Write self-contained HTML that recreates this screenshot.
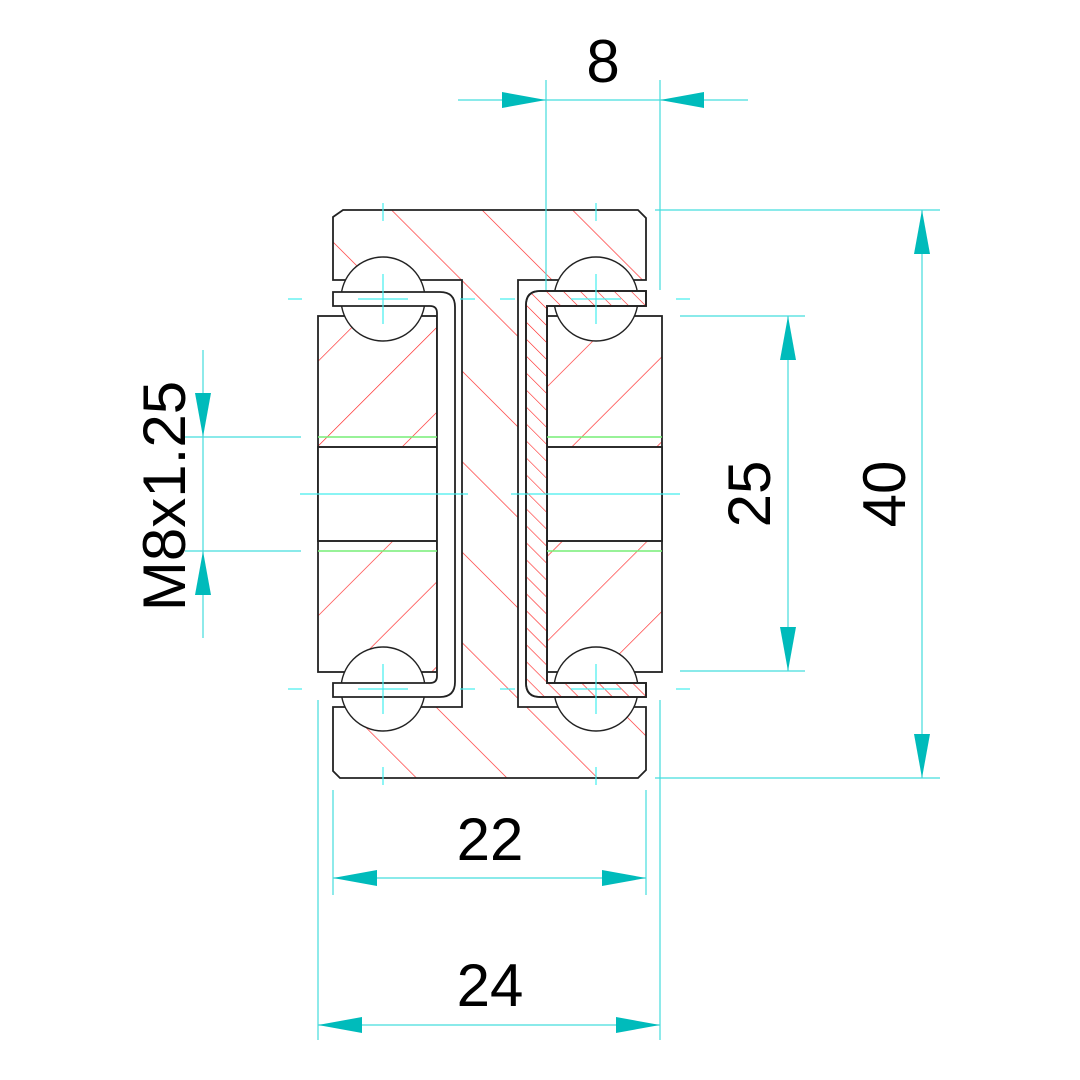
<!DOCTYPE html>
<html><head><meta charset="utf-8"><style>html,body{margin:0;padding:0;background:#fff}svg{display:block}</style></head>
<body>
<svg width="1080" height="1080" viewBox="0 0 1080 1080" xmlns="http://www.w3.org/2000/svg" font-family="Liberation Sans, sans-serif">
<defs>
<pattern id="hb" patternUnits="userSpaceOnUse" width="64" height="64" patternTransform="rotate(-45)"><line x1="0" y1="0" x2="0" y2="64" stroke="#f22" stroke-width="1.3"/></pattern>
<pattern id="hk" patternUnits="userSpaceOnUse" width="60" height="60" patternTransform="rotate(45)"><line x1="0" y1="0" x2="0" y2="60" stroke="#f22" stroke-width="1.3"/></pattern>
<pattern id="hs" patternUnits="userSpaceOnUse" width="12" height="12" patternTransform="rotate(-45)"><line x1="0" y1="0" x2="0" y2="12" stroke="#f22" stroke-width="1.2"/></pattern>
</defs>
<g stroke="#222" stroke-width="1.8">
<path d="M343 210 L638 210 L646 218 L646 280 L518 280 L518 707 L646 707 L646 770 L638 778 L340 778 L333 771 L333 707 L462 707 L462 280 L333 280 L333 217 Z" fill="url(#hb)"/>
<rect x="318" y="316" width="119" height="356" fill="url(#hk)"/>
<rect x="547" y="316" width="115" height="356" fill="url(#hk)"/>
<rect x="318" y="447" width="119" height="94" fill="#fff"/>
<rect x="547" y="447" width="115" height="94" fill="#fff"/>
<circle cx="383" cy="299" r="42" fill="#fff" stroke-width="1.4"/>
<circle cx="596" cy="299" r="42" fill="#fff" stroke-width="1.4"/>
<circle cx="383" cy="689" r="42" fill="#fff" stroke-width="1.4"/>
<circle cx="596" cy="689" r="42" fill="#fff" stroke-width="1.4"/>
<path d="M333 292 H440 Q455 292 455 307 V682 Q455 697 440 697 H333 V683 H430 Q437 683 437 676 V313 Q437 306 430 306 H333 Z" fill="#fff"/>
<path d="M646 291 H540 Q526 291 526 305 V683 Q526 697 540 697 H646 V683 H547 V306 H646 Z" fill="#fff"/>
<path d="M646 291 H540 Q526 291 526 305 V683 Q526 697 540 697 H646 V683 H547 V306 H646 Z" fill="url(#hs)"/>
</g>
<g stroke="#7e7" stroke-width="1.5"><line x1="318" y1="437" x2="437" y2="437"/><line x1="318" y1="551" x2="437" y2="551"/><line x1="547" y1="437" x2="662" y2="437"/><line x1="547" y1="551" x2="662" y2="551"/></g>
<g stroke="#222" stroke-width="1.4"><line x1="318" y1="447" x2="437" y2="447"/><line x1="318" y1="541" x2="437" y2="541"/><line x1="547" y1="447" x2="662" y2="447"/><line x1="547" y1="541" x2="662" y2="541"/></g>
<g stroke="#4ee" stroke-width="1.2">
<line x1="300" y1="494" x2="468" y2="494"/><line x1="511" y1="494" x2="680" y2="494"/>
<line x1="288" y1="299" x2="302" y2="299"/><line x1="358" y1="299" x2="408" y2="299"/><line x1="460" y1="299" x2="475" y2="299"/><line x1="500" y1="299" x2="515" y2="299"/><line x1="571" y1="299" x2="621" y2="299"/><line x1="676" y1="299" x2="690" y2="299"/>
<line x1="288" y1="689" x2="302" y2="689"/><line x1="358" y1="689" x2="408" y2="689"/><line x1="460" y1="689" x2="475" y2="689"/><line x1="500" y1="689" x2="515" y2="689"/><line x1="571" y1="689" x2="621" y2="689"/><line x1="676" y1="689" x2="690" y2="689"/>
<line x1="383" y1="274" x2="383" y2="324"/><line x1="596" y1="274" x2="596" y2="324"/><line x1="383" y1="664" x2="383" y2="714"/><line x1="596" y1="664" x2="596" y2="714"/>
<line x1="383" y1="203" x2="383" y2="221"/><line x1="596" y1="203" x2="596" y2="221"/><line x1="383" y1="767" x2="383" y2="785"/><line x1="596" y1="767" x2="596" y2="785"/>
</g>
<g stroke="#4dd" stroke-width="1.2" fill="none">
<line x1="546" y1="80" x2="546" y2="290"/><line x1="660" y1="80" x2="660" y2="290"/><line x1="458" y1="100" x2="748" y2="100"/>
<line x1="655" y1="210" x2="940" y2="210"/><line x1="655" y1="778" x2="940" y2="778"/><line x1="922" y1="210" x2="922" y2="778"/>
<line x1="680" y1="316" x2="805" y2="316"/><line x1="680" y1="671" x2="805" y2="671"/><line x1="788" y1="316" x2="788" y2="671"/>
<line x1="333" y1="790" x2="333" y2="895"/><line x1="646" y1="790" x2="646" y2="895"/><line x1="333" y1="878" x2="646" y2="878"/>
<line x1="318" y1="700" x2="318" y2="1040"/><line x1="660" y1="700" x2="660" y2="1040"/><line x1="318" y1="1025" x2="660" y2="1025"/>
<line x1="203" y1="350" x2="203" y2="638"/><line x1="185" y1="437" x2="301" y2="437"/><line x1="185" y1="551" x2="301" y2="551"/>
</g>
<g fill="#0bb">
<polygon points="546,100 502,92 502,108"/><polygon points="660,100 704,92 704,108"/>
<polygon points="922,210 914,254 930,254"/><polygon points="922,778 914,734 930,734"/>
<polygon points="788,316 780,360 796,360"/><polygon points="788,671 780,627 796,627"/>
<polygon points="333,878 377,870 377,886"/><polygon points="646,878 602,870 602,886"/>
<polygon points="318,1025 362,1017 362,1033"/><polygon points="660,1025 616,1017 616,1033"/>
<polygon points="203,437 195,393 211,393"/><polygon points="203,551 195,595 211,595"/>
</g>
<g fill="#000" font-size="60" text-anchor="middle">
<text x="603" y="82">8</text>
<text x="490" y="860">22</text>
<text x="490" y="1006">24</text>
<text transform="translate(905,494) rotate(-90)">40</text>
<text transform="translate(770,494) rotate(-90)">25</text>
<text transform="translate(185,496) rotate(-90)">M8x1.25</text>
</g>
</svg>
</body></html>
